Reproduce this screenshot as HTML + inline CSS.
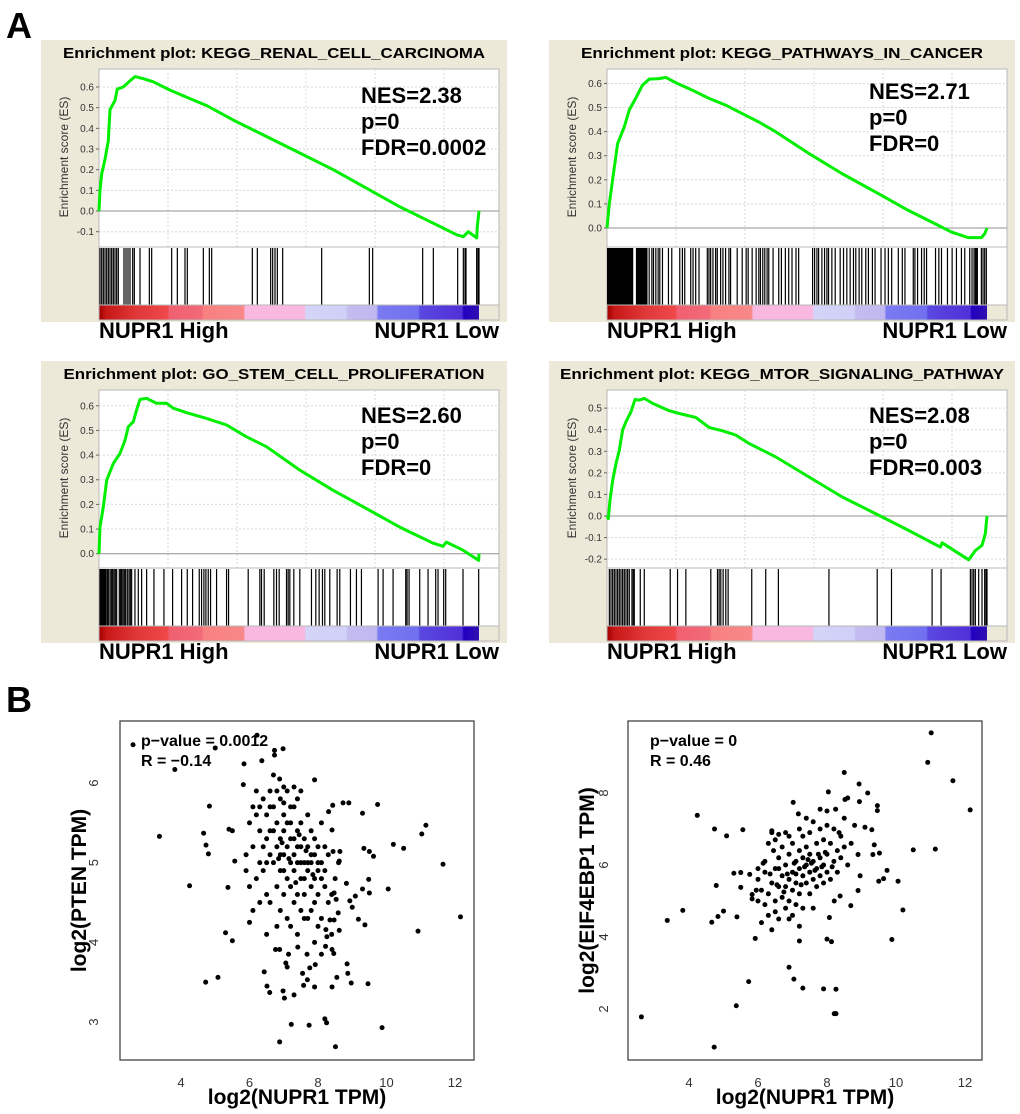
<!DOCTYPE html>
<html><head><meta charset="utf-8">
<style>
html,body{margin:0;padding:0;background:#fff;}
svg{display:block;font-family:"Liberation Sans",Arial,sans-serif;}
</style></head>
<body>
<svg id="fig" width="1020" height="1114" viewBox="0 0 1020 1114" xmlns="http://www.w3.org/2000/svg">
<text x="6" y="38" font-size="36" font-weight="bold">A</text>
<text x="6" y="712" font-size="36" font-weight="bold">B</text>
</svg>
<script>
// ===== GSEA panel data =====
const titles = ["Enrichment plot: KEGG_RENAL_CELL_CARCINOMA","Enrichment plot: KEGG_PATHWAYS_IN_CANCER","Enrichment plot: GO_STEM_CELL_PROLIFERATION","Enrichment plot: KEGG_MTOR_SIGNALING_PATHWAY"];
const nesLabels = [["NES=2.38","p=0","FDR=0.0002"],["NES=2.71","p=0","FDR=0"],["NES=2.60","p=0","FDR=0"],["NES=2.08","p=0","FDR=0.003"]];
const listSizes = [1140,1144,1141,1142];
const yDomains = [[-0.174,0.687],[-0.079,0.66],[-0.058,0.664],[-0.241,0.584]];
const yTicks = [[-0.1,0,0.1,0.2,0.3,0.4,0.5,0.6],[0,0.1,0.2,0.3,0.4,0.5,0.6],[0,0.1,0.2,0.3,0.4,0.5,0.6],[-0.2,-0.1,0,0.1,0.2,0.3,0.4,0.5]];
const esRank1 = [0,3,8,18,28,33,48,55,73,93,108,133,163,213,263,323,403,503,603,703,803,903,973,1023,1073,1093,1108,1133,1135,1140];
const esVal1 = [0,0.1,0.18,0.25,0.34,0.49,0.535,0.59,0.6,0.63,0.65,0.64,0.625,0.585,0.55,0.51,0.44,0.36,0.28,0.2,0.11,0.02,-0.035,-0.075,-0.115,-0.124,-0.1,-0.13,-0.075,0];
const esRank2 = [0,7,17,32,52,67,87,107,127,157,177,207,257,307,357,407,457,507,607,707,807,907,987,1037,1087,1127,1137,1144];
const esVal2 = [0,0.1,0.2,0.35,0.42,0.49,0.54,0.593,0.618,0.62,0.625,0.603,0.572,0.538,0.51,0.475,0.44,0.4,0.31,0.226,0.15,0.073,0.018,-0.017,-0.04,-0.04,-0.024,0];
const esRank3 = [0,3,13,23,43,63,78,88,103,113,123,143,173,203,223,263,323,383,443,503,603,703,803,903,1003,1033,1043,1093,1140,1141];
const esVal3 = [0,0.108,0.19,0.298,0.366,0.407,0.46,0.515,0.535,0.583,0.626,0.63,0.61,0.61,0.59,0.572,0.549,0.522,0.474,0.434,0.339,0.257,0.183,0.108,0.043,0.03,0.047,0.014,-0.027,0];
const esRank4 = [0,4,9,17,27,37,47,57,72,84,97,112,137,187,217,267,307,347,387,427,507,607,707,807,907,977,1002,1007,1087,1107,1127,1137,1142];
const esVal4 = [0,-0.012,0.073,0.166,0.243,0.305,0.398,0.437,0.483,0.54,0.537,0.545,0.522,0.488,0.475,0.457,0.41,0.395,0.375,0.336,0.274,0.181,0.088,0.011,-0.067,-0.124,-0.144,-0.124,-0.203,-0.16,-0.136,-0.082,0];
const hits1 = [3,8,13,18,23,28,33,38,43,48,53,58,75,81,87,93,101,106,123,151,158,218,235,258,265,313,331,338,460,475,515,521,528,535,551,668,811,821,971,1003,1076,1093,1098,1101,1133,1137,1140];
const hitBlocks2 = [[0,79],[87,122]];
const hits2 = [127,135,140,147,154,159,167,185,195,219,227,234,252,259,267,277,302,307,312,319,327,332,342,349,357,367,372,392,407,419,425,437,449,457,462,469,475,482,487,500,517,525,537,547,557,569,577,619,625,632,637,647,655,662,667,677,687,702,712,722,732,742,749,759,767,779,787,799,807,825,837,847,857,877,889,897,922,927,935,947,955,962,989,999,1007,1025,1039,1052,1067,1077,1092,1099,1105,1109,1112,1115,1127,1132,1137,1142];
const hits3 = [3,6,9,12,15,18,21,25,28,33,37,41,45,49,53,61,65,68,72,76,80,85,90,94,98,108,118,128,143,165,195,221,248,265,281,301,308,315,321,328,335,353,383,389,448,483,488,496,525,533,541,563,568,573,585,603,638,651,661,671,678,693,715,723,755,773,788,838,853,883,921,925,931,963,988,1011,1018,1035,1041,1093,1140];
const hits4 = [7,12,17,22,27,32,37,42,47,52,57,62,67,75,79,82,100,112,190,212,237,312,332,337,342,349,357,364,435,477,515,667,812,855,977,1004,1092,1097,1102,1107,1117,1127,1135,1139,1142];

// ===== scatter data =====
const pten_x = [2.6,3.37,3.82,4.25,4.66,4.73,4.8,4.83,4.72,5.08,5.0,5.3,5.5,5.37,5.4,5.5,5.57,5.84,5.82,6.0,6.22,6.36,6.73,6.73,6.98,6.88,7.9,6.43,6.51,6.59,6.98,7.02,7.3,7.06,7.1,7.22,7.74,6.88,8.2,8.25,8.51,9.87,7.55,7.58,7.69,7.76,7.92,7.9,8.41,8.55,8.85,8.87,8.97,9.46,7.68,7.41,8.1,8.22,8.41,8.46,7.14,6.76,6.88,8.73,8.9,9.3,9.74,9.34,9.5,9.62,10.2,10.5,10.05,11.03,11.15,11.65,12.16,10.92,9.48,9.5,9.3,9.18,9.37,9.09,8.93,9.0,8.83,8.44,8.64,8.62,8.47,8.53,8.59,8.47,8.62,8.23,8.35,8.26,8.41,8.31,8.43,
6.0,6.1,6.2,6.3,6.3,6.4,6.4,6.5,6.5,6.5,6.6,6.6,6.6,6.7,6.7,6.7,6.8,6.8,6.8,6.9,6.9,6.9,6.9,7.0,7.0,7.0,7.0,7.1,7.1,7.1,7.1,7.2,7.2,7.2,7.2,7.3,7.3,7.3,7.3,7.4,7.4,7.4,7.4,7.5,7.5,7.5,7.5,7.6,7.6,7.6,7.7,7.7,7.7,7.7,7.8,7.8,7.8,7.8,7.9,7.9,7.9,8.0,8.0,8.0,8.1,8.1,8.1,8.2,8.2,8.3,8.3,8.4,8.5,8.6,6.2,6.0,6.1,6.2,6.3,6.4,6.5,6.6,6.7,6.8,6.9,7.0,7.1,7.2,7.3,7.4,7.5,7.6,7.7,7.8,7.9,8.0,8.1,8.2,7.3,7.5,7.0,6.6,6.3,6.8,7.2,7.6,8.0,8.4,7.9,7.4,6.5,5.9,5.9,6.1,7.0,6.95,7.35,7.65,7.15,6.85,7.45,7.85];
const pten_y = [6.48,5.33,6.17,4.71,5.37,5.22,5.11,5.71,3.5,3.56,6.44,4.12,4.02,4.69,5.42,5.4,5.02,6.24,5.98,4.25,6.6,6.28,6.35,6.41,6.43,6.05,6.04,3.63,3.45,3.37,3.39,3.3,3.34,3.74,3.69,2.97,2.96,2.75,3.04,2.99,2.69,2.93,3.61,3.46,3.53,3.68,3.72,3.44,3.44,3.56,3.73,3.61,3.49,3.48,3.85,3.94,3.85,3.95,3.91,3.86,3.85,3.91,3.91,5.75,5.75,5.62,5.73,5.18,5.14,5.08,5.23,5.18,4.67,5.36,5.47,4.98,4.32,4.14,4.79,4.62,4.67,4.29,4.22,4.58,4.52,4.44,4.74,5.14,5.14,5.02,4.62,4.54,4.37,4.28,4.15,4.16,4.28,4.07,5.41,5.64,5.72,
5.5,5.2,5.6,5.0,5.4,5.8,4.9,5.3,5.6,4.6,5.1,5.9,4.5,5.4,5.0,5.7,5.2,4.7,5.5,4.9,5.3,5.8,4.4,5.1,5.6,4.6,5.4,4.8,5.2,5.9,4.3,5.0,5.5,4.7,5.3,4.9,5.7,4.5,5.1,5.4,4.6,5.0,5.8,5.2,4.8,4.4,5.5,5.0,5.3,4.6,4.9,5.2,5.6,4.3,5.0,4.7,5.4,5.1,4.8,5.3,4.5,5.0,4.6,5.2,4.8,4.3,5.5,4.7,4.9,4.5,5.1,4.6,4.8,5.0,5.9,4.7,4.4,4.8,5.7,5.2,5.0,5.4,6.1,5.9,5.1,4.9,5.5,5.7,5.3,5.2,5.0,4.8,5.0,4.4,5.1,4.9,5.0,5.2,5.95,5.9,5.95,5.7,4.5,4.2,4.2,4.3,4.2,4.1,4.0,4.1,4.1,5.1,4.9,5.7,5.75,5.25,4.75,5.15,5.05,5.05,5.35,4.85];
const eif_x = [2.62,3.37,3.82,4.24,4.66,4.74,4.79,4.84,5.0,5.09,4.73,5.37,5.39,5.3,5.5,5.5,5.56,5.73,5.76,5.83,5.83,5.92,6.9,7.04,7.3,7.9,8.26,8.21,8.26,8.0,8.13,7.2,7.02,7.17,8.04,8.5,8.93,9.18,8.94,9.46,9.46,8.52,8.6,10.92,11.02,11.65,12.15,10.5,11.14,9.88,10.2,10.06,9.74,9.64,9.5,9.37,9.33,9.52,9.3,9.1,8.9,8.96,8.9,8.69,8.38,8.21,8.07,
6.0,6.0,6.1,6.1,6.2,6.2,6.3,6.3,6.3,6.4,6.4,6.4,6.5,6.5,6.5,6.6,6.6,6.6,6.7,6.7,6.7,6.8,6.8,6.8,6.9,6.9,6.9,7.0,7.0,7.0,7.0,7.1,7.1,7.1,7.2,7.2,7.2,7.3,7.3,7.3,7.3,7.4,7.4,7.4,7.5,7.5,7.5,7.5,7.6,7.6,7.6,7.7,7.7,7.7,7.8,7.8,7.8,7.9,7.9,7.9,8.0,8.0,8.0,8.1,8.1,8.2,8.2,8.3,8.3,8.4,8.4,8.5,8.5,8.6,6.2,6.5,6.8,7.2,7.6,8.0,7.4,6.9,7.2,6.6,7.1,7.35,7.55,7.65,7.05,6.85,7.45,7.25,6.75,7.85,7.95,8.15,6.55,6.35,5.95,6.0,6.15,6.45,7.75,8.35,8.7,8.8,8.25,7.8,6.9,6.6,6.4];
const eif_y = [1.78,4.46,4.74,7.38,4.41,7.0,5.43,4.57,4.72,6.81,0.94,2.09,4.56,5.77,5.79,5.38,6.98,2.76,5.74,5.18,5.06,3.96,3.16,2.83,2.58,2.56,2.55,1.87,1.87,3.94,3.87,3.89,7.74,7.42,8.03,8.57,8.25,8.0,7.76,7.65,7.51,7.82,7.86,8.85,9.67,8.34,7.53,6.42,6.44,3.93,4.75,5.55,5.85,5.62,5.55,6.56,6.29,6.33,6.98,7.05,6.29,5.7,5.29,4.87,5.14,5.0,4.54,
5.0,5.6,4.4,5.3,4.9,5.8,5.2,4.6,6.6,5.5,4.2,6.9,5.0,5.9,4.7,5.4,6.2,4.5,5.7,5.1,6.5,5.4,4.8,6.0,5.6,6.3,5.0,5.8,5.3,6.6,4.6,6.1,5.5,4.9,5.9,6.4,5.2,5.7,6.2,6.8,4.8,5.5,6.0,6.5,5.8,5.2,6.3,6.9,5.6,6.1,4.8,5.9,6.6,5.4,6.2,5.7,7.0,6.0,5.5,6.7,6.3,5.8,7.1,6.6,5.6,6.1,7.0,6.4,5.8,6.8,6.2,7.3,6.5,6.0,6.1,6.7,6.9,7.0,7.2,7.5,7.3,4.5,4.3,5.9,5.75,5.95,6.05,5.85,6.05,5.75,6.15,5.45,5.25,5.95,6.35,5.95,5.45,5.75,5.3,5.9,6.05,6.4,6.3,6.9,6.6,7.1,7.55,7.55,6.8,6.85,6.95];

const NS = "http://www.w3.org/2000/svg";
const fig = document.getElementById('fig');
function el(tag, attrs, parent){
  const e = document.createElementNS(NS, tag);
  for (const k in attrs) e.setAttribute(k, attrs[k]);
  (parent||fig).appendChild(e);
  return e;
}

// ===== GSEA panels =====
const panelOrigins = [[41,40],[549,40],[41,361],[549,361]];
const esRanks = [esRank1,esRank2,esRank3,esRank4];
const esVals = [esVal1,esVal2,esVal3,esVal4];
const hitLists = [hits1,hits2,hits3,hits4];
const hitBlockLists = [[],hitBlocks2,[],[]];

const defs = el('defs',{});
const grad = el('linearGradient',{id:'rankgrad',x1:'0',x2:'1',y1:'0',y2:'0'},defs);
[[0,'#a00000'],[0.02,'#c81818'],[0.1,'#e03838'],[0.18,'#f04848'],[0.185,'#f06070'],[0.27,'#f26a78'],[0.275,'#f88080'],[0.38,'#f88888'],[0.385,'#f8b8e0'],[0.54,'#f8b8e0'],[0.545,'#d4d4f8'],[0.65,'#d0d0f8'],[0.655,'#c4bcf0'],[0.73,'#c0b8f0'],[0.735,'#7a7af2'],[0.84,'#7070f0'],[0.845,'#5a48e0'],[0.955,'#5030d8'],[0.96,'#2000c0'],[1,'#3010b0']].forEach(s=>{
  el('stop',{offset:s[0],'stop-color':s[1]},grad);
});

panelOrigins.forEach((o,i)=>{
  const g = el('g',{transform:`translate(${o[0]},${o[1]})`});
  
  
  const cp = el('clipPath',{id:'clip'+i},defs);
  el('rect',{x:0,y:0,width:466,height:282},cp);
  const bg = el('rect',{x:0,y:0,width:466,height:282,fill:'#ece9d8'},g);
  
  
  const t = el('text',{x:233,y:18,'text-anchor':'middle','font-size':15,'font-weight':'bold',textLength:[422,402,421,444][i],lengthAdjust:'spacingAndGlyphs'},g);
  t.textContent = titles[i];
  
  
  const L=58, R=458, D=438, T=29, B=207;
  const N = listSizes[i];
  const xs = r => L + (r/N)*(D-L);
  const [y0,y1] = yDomains[i];
  const ys = v => B - (v-y0)/(y1-y0)*(B-T);
  el('rect',{x:L,y:T,width:R-L,height:B-T,fill:'#fff',stroke:'#b8b8b8','stroke-width':1},g);
  for(let k=1;k<=5;k++){
    el('line',{x1:L+69*k,x2:L+69*k,y1:T,y2:B,stroke:'#d8d8d8','stroke-dasharray':'2,2','stroke-width':1},g);
  }
  yTicks[i].forEach(v=>{
    const y=ys(v);
    if(Math.abs(v)<1e-9){
      el('line',{x1:L,x2:R,y1:y,y2:y,stroke:'#909090','stroke-width':1},g);
    } else {
      el('line',{x1:L,x2:R,y1:y,y2:y,stroke:'#d8d8d8','stroke-dasharray':'2,2','stroke-width':1},g);
    }
    el('line',{x1:L-3,x2:L,y1:y,y2:y,stroke:'#666'},g);
    const tl = el('text',{x:L-5,y:y+3.5,'text-anchor':'end','font-size':10,fill:'#333'},g);
    tl.textContent = v.toFixed(1);
    
    
  });
  const yt = el('text',{transform:`translate(27,117) rotate(-90)`,'text-anchor':'middle','font-size':12,fill:'#333'},g);
  yt.textContent = 'Enrichment score (ES)';
  
  
  const nt = el('text',{transform:`translate(27,253) rotate(-90)`,'text-anchor':'end','font-size':12,fill:'#333','clip-path':`url(#clip${i})`},g);
  nt.textContent = 'Ranked list metric (Signal2Noise)';
  
  
  const pts = esRanks[i].map((r,k)=>xs(r).toFixed(1)+','+ys(esVals[i][k]).toFixed(1)).join(' ');
  const curve = el('polyline',{points:pts,fill:'none',stroke:'#00ee00','stroke-width':3,'stroke-linejoin':'round'},g);
  
  
  el('rect',{x:L,y:B,width:R-L,height:58,fill:'#fff',stroke:'#b8b8b8'},g);
  hitBlockLists[i].forEach(b=>{
    const r = el('rect',{x:xs(b[0]),y:B+1,width:xs(b[1])-xs(b[0]),height:57,fill:'#000'},g);
    
    
  });
  hitLists[i].forEach(h=>{
    const ln = el('line',{x1:xs(h),x2:xs(h),y1:B+1,y2:B+58,stroke:'#000','stroke-width':1.2},g);
    
    
  });
  const cb = el('rect',{x:L,y:265,width:D-L,height:15,fill:'url(#rankgrad)'},g);
  
  
  el('rect',{x:L,y:265,width:R-L,height:15,fill:'none',stroke:'#b8b8b8'},g);
  nesLabels[i].forEach((s,k)=>{
    const tx = el('text',{x:320,y:[63,59,62,62][i]+26*k,'font-size':22,'font-weight':'bold'},g);
    tx.textContent = s;
    
    
  });
  const hi = el('text',{x:L,y:298,'font-size':22,'font-weight':'bold'},g);
  hi.textContent='NUPR1 High';
  
  
  const lo = el('text',{x:R,y:298,'text-anchor':'end','font-size':22,'font-weight':'bold'},g);
  lo.textContent='NUPR1 Low';
  
  
});

// ===== scatter plots =====
const scatterXTicks = [4,6,8,10,12];
const ptenYTicks = [3,4,5,6];
const eifYTicks = [2,4,6,8];
const scatters = [
  {name:'pten-scatter', box:[120,721,474,1060], x4:181, xu:34.25, yref:6, yrefPx:783, yu:79.67, xs:pten_x, ys:pten_y, yt:ptenYTicks, ylab:'log2(PTEN TPM)', stats:['p\u2212value = 0.0012','R = \u22120.14'], statX:141, tickX:98},
  {name:'eif4ebp1-scatter', box:[628,721,982,1060], x4:689, xu:34.5, yref:8, yrefPx:793, yu:36, xs:eif_x, ys:eif_y, yt:eifYTicks, ylab:'log2(EIF4EBP1 TPM)', stats:['p\u2212value = 0','R = 0.46'], statX:650, tickX:608}
];
scatters.forEach(s=>{
  const g = el('g',{});
  
  
  const [x0,y0,x1,y1] = s.box;
  const sx = v => s.x4 + (v-4)*s.xu;
  const sy = v => s.yrefPx - (v-s.yref)*s.yu;
  const box = el('rect',{x:x0,y:y0,width:x1-x0,height:y1-y0,fill:'none',stroke:'#444','stroke-width':1.3},g);
  
  
  scatterXTicks.forEach(v=>{
    const t = el('text',{x:sx(v),y:1087,'text-anchor':'middle','font-size':13,fill:'#333'},g);
    t.textContent=v;
    
    
  });
  s.yt.forEach(v=>{
    const t = el('text',{transform:`translate(${s.tickX},${sy(v)}) rotate(-90)`,'text-anchor':'middle','font-size':13,fill:'#333'},g);
    t.textContent=v;
    
    
  });
  s.xs.forEach((xv,k)=>{
    const c = el('circle',{cx:sx(xv),cy:sy(s.ys[k]),r:2.5,fill:'#000'},g);
    
    
  });
  const xl = el('text',{x:(x0+x1)/2,y:1104,'text-anchor':'middle','font-size':21,'font-weight':'bold'},g);
  xl.textContent='log2(NUPR1 TPM)';
  
  
  const yl = el('text',{transform:`translate(${x0-34},${(y0+y1)/2}) rotate(-90)`,'text-anchor':'middle','font-size':21,'font-weight':'bold'},g);
  yl.textContent=s.ylab;
  
  
  s.stats.forEach((txt,k)=>{
    const t = el('text',{x:s.statX,y:746+20*k,'font-size':16,'font-weight':'bold'},g);
    t.textContent=txt;
    
    
  });
});
</script>
</body></html>
